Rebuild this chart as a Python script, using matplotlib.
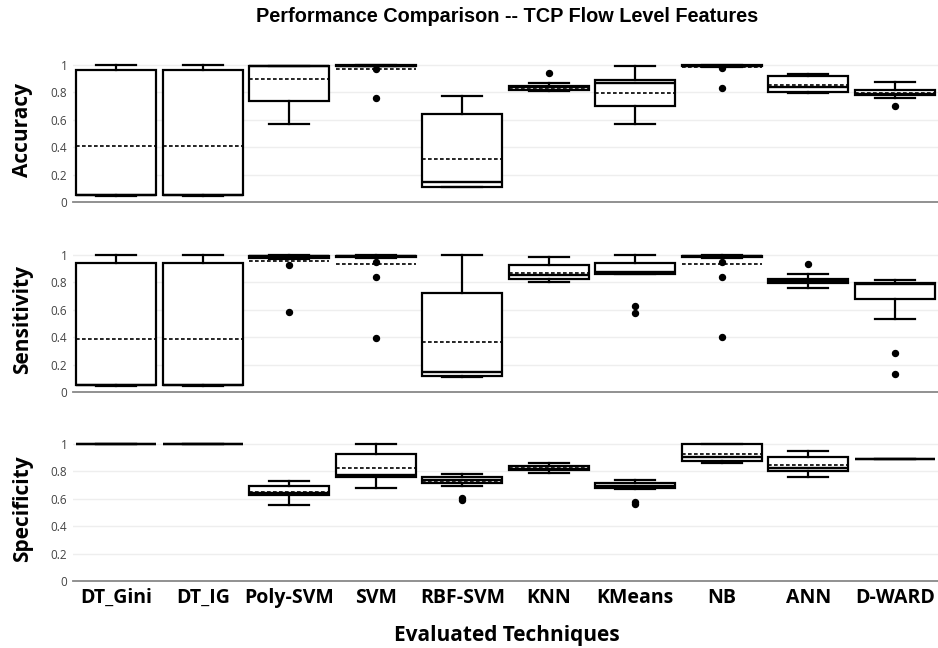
import matplotlib.pyplot as plt
import numpy as np
from matplotlib.ticker import FuncFormatter

techniques = ["DT_Gini", "DT_IG", "Poly-SVM", "SVM", "RBF-SVM",
              "KNN", "KMeans", "NB", "ANN", "D-WARD"]

# accuracy box statistics
acc_lo = [0.047, 0.047, 0.567, 0.99, 0.108, 0.808, 0.572, 0.985, 0.793, 0.761]
acc_q1 = [0.05, 0.05, 0.74, 0.99, 0.112, 0.815, 0.70, 0.99, 0.80, 0.779]
acc_med = [0.05, 0.05, 0.99, 0.995, 0.144, 0.835, 0.871, 0.995, 0.84, 0.79]
acc_q3 = [0.96, 0.96, 0.995, 1.0, 0.64, 0.849, 0.886, 1.0, 0.922, 0.818]
acc_hi = [1.0, 1.0, 0.995, 1.0, 0.774, 0.871, 0.995, 1.0, 0.93, 0.873]
acc_mean = [0.405, 0.405, 0.898, 0.97, 0.314, 0.832, 0.798, 0.983, 0.852, 0.798]
acc_out = [[], [], [], [0.97, 0.761], [], [0.944], [], [0.976, 0.834], [], [0.703]]

# sensitivity
sen_lo = [0.046, 0.046, 0.97, 0.98, 0.11, 0.803, 0.86, 0.98, 0.761, 0.535]
sen_q1 = [0.05, 0.05, 0.975, 0.985, 0.117, 0.825, 0.861, 0.985, 0.798, 0.679]
sen_med = [0.05, 0.05, 0.99, 0.99, 0.144, 0.854, 0.875, 0.99, 0.81, 0.785]
sen_q3 = [0.937, 0.937, 0.995, 0.995, 0.725, 0.927, 0.939, 0.995, 0.827, 0.796]
sen_hi = [1.0, 1.0, 1.0, 1.0, 1.0, 0.988, 1.0, 1.0, 0.859, 0.818]
sen_mean = [0.389, 0.389, 0.956, 0.932, 0.363, 0.871, 0.868, 0.934, 0.812, 0.675]
sen_out = [[], [], [0.927, 0.582], [0.949, 0.837, 0.394], [], [],
           [0.628, 0.579], [0.951, 0.842, 0.399], [0.934], [0.287, 0.131]]

# specificity
spe_lo = [1.0, 1.0, 0.556, 0.676, 0.696, 0.784, 0.67, 0.858, 0.755, 0.892]
spe_q1 = [1.0, 1.0, 0.625, 0.76, 0.716, 0.806, 0.676, 0.877, 0.799, 0.892]
spe_med = [1.0, 1.0, 0.64, 0.774, 0.74, 0.82, 0.69, 0.907, 0.821, 0.892]
spe_q3 = [1.0, 1.0, 0.696, 0.924, 0.755, 0.836, 0.711, 1.0, 0.907, 0.892]
spe_hi = [1.0, 1.0, 0.726, 0.998, 0.782, 0.863, 0.735, 1.0, 0.946, 0.892]
spe_mean = [1.0, 1.0, 0.652, 0.826, 0.728, 0.822, 0.69, 0.929, 0.848, 0.892]
spe_out = [[], [], [], [], [0.604, 0.59], [], [0.575, 0.56], [], [], []]

metrics = [
    ("Accuracy", acc_lo, acc_q1, acc_med, acc_q3, acc_hi, acc_mean, acc_out),
    ("Sensitivity", sen_lo, sen_q1, sen_med, sen_q3, sen_hi, sen_mean, sen_out),
    ("Specificity", spe_lo, spe_q1, spe_med, spe_q3, spe_hi, spe_mean, spe_out),
]

W, H = 938, 648
fig = plt.figure(figsize=(W / 100, H / 100), dpi=100)

left = 73 / W
width = 1 - left
tops = [58, 248, 437]
height_px = 144

line_kw = dict(color="black", linewidth=1.6)

for i, (name, lo, q1, med, q3, hi, mean, out) in enumerate(metrics):
    top = tops[i]
    ax = fig.add_axes([left, 1 - (top + height_px) / H, width, height_px / H])
    stats = []
    for k, tech in enumerate(techniques):
        stats.append(dict(label=tech, whislo=lo[k], q1=q1[k], med=med[k],
                          q3=q3[k], whishi=hi[k], mean=mean[k], fliers=out[k]))
    positions = np.arange(len(techniques))
    ax.bxp(stats, positions=positions, widths=0.92, capwidths=0.46,
           showmeans=True, meanline=True, patch_artist=True,
           boxprops=dict(facecolor="white", edgecolor="black", linewidth=1.6),
           whiskerprops=line_kw, capprops=line_kw,
           medianprops=dict(color="black", linewidth=1.7),
           meanprops=dict(color="black", linewidth=1.2, linestyle=(0, (2.2, 1.4))),
           flierprops=dict(marker="o", markerfacecolor="black",
                           markeredgecolor="black", markersize=4.3))
    ax.set_xlim(-0.5, len(techniques) - 0.5)
    ax.set_ylim(0, 1.05)
    ax.set_yticks([0, 0.2, 0.4, 0.6, 0.8, 1.0])
    ax.yaxis.set_major_formatter(FuncFormatter(lambda v, p: f"{v:g}"))
    ax.grid(axis="y", color="#eeeeee", linewidth=1)
    ax.set_axisbelow(True)
    for side in ["top", "right", "left"]:
        ax.spines[side].set_visible(False)
    ax.spines["bottom"].set_color("#888888")
    ax.spines["bottom"].set_linewidth(1.3)
    ax.tick_params(axis="y", length=0, pad=4, labelsize=8.5, labelcolor="#444444")
    for lab in ax.get_yticklabels():
        lab.set_fontfamily("Open Sans")
    ax.tick_params(axis="x", length=0)
    if i < 2:
        ax.set_xticklabels([])
    else:
        ax.set_xticks(positions)
        ax.set_xticklabels(techniques, fontfamily="Open Sans",
                           fontweight="bold", fontsize=14)
        ax.tick_params(axis="x", pad=5)
    ax.set_ylabel(name, fontfamily="Open Sans", fontweight="bold", fontsize=15)
    ax.yaxis.set_label_coords(-40 / (W - 73), 0.5)

fig.text(507 / W, 1 - 17 / H, "Performance Comparison -- TCP Flow Level Features",
         ha="center", va="center", fontfamily="Liberation Sans",
         fontweight="bold", fontsize=14.3)
fig.text(507 / W, 1 - 636 / H, "Evaluated Techniques", ha="center", va="center",
         fontfamily="Open Sans", fontweight="bold", fontsize=15)

fig.savefig("out.png", dpi=100)
